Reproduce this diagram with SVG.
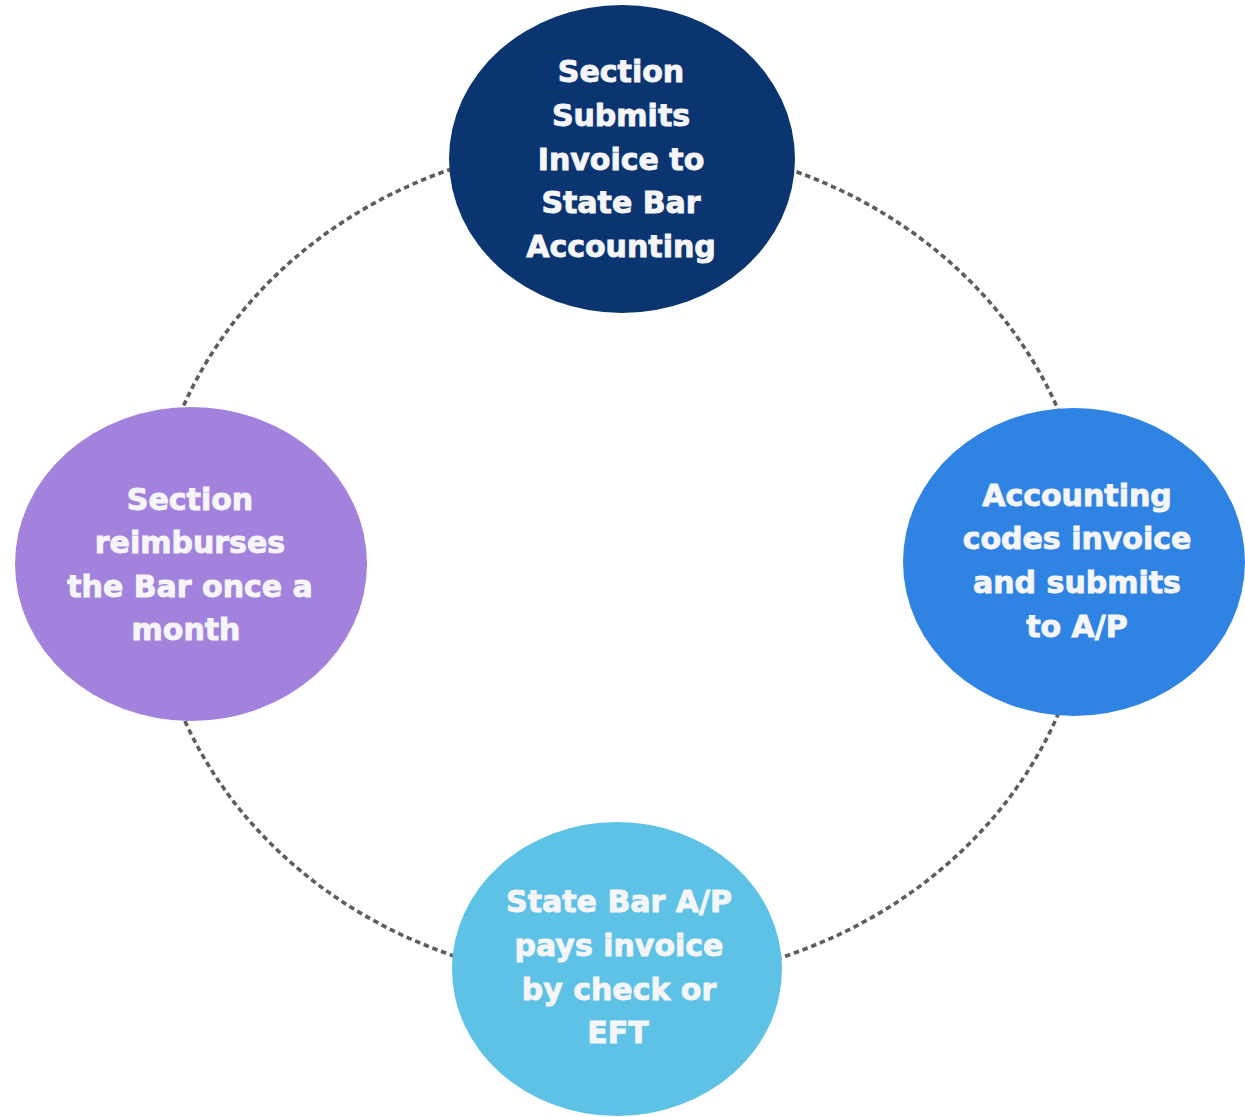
<svg xmlns="http://www.w3.org/2000/svg" width="1245" height="1117" viewBox="0 0 1245 1117">
<style>
.conn{fill:none;stroke:#5e5e5e;stroke-width:3.6;stroke-dasharray:5.5 3.8;}
.lbl{font-family:"DejaVu Sans","Liberation Sans",sans-serif;font-weight:bold;font-size:30px;fill:#f6f6fa;stroke:#f6f6fa;stroke-width:0.9;text-anchor:middle;}
</style>
<rect width="1245" height="1117" fill="#ffffff"/>
<g id="connectors">
<path class="conn" d="M470,163 A470,421 0 0 0 177.6,420"/>
<path class="conn" d="M770,163 A470,421 0 0 1 1062.4,420"/>
<path class="conn" d="M1062.4,704 A470,421 0 0 1 770,961"/>
<path class="conn" d="M177.6,704 A470,421 0 0 0 470,961"/>
</g>
<g id="node-top">
<ellipse cx="622" cy="159" rx="173" ry="154" fill="#0a3571"/>
<text class="lbl"><tspan x="621" y="82">Section</tspan><tspan x="621" y="126">Submits</tspan><tspan x="621" y="170">Invoice to</tspan><tspan x="621" y="213">State Bar</tspan><tspan x="621" y="257">Accounting</tspan></text>
</g>
<g id="node-right">
<ellipse cx="1074" cy="562" rx="171" ry="154" fill="#2f84e3"/>
<text class="lbl"><tspan x="1077" y="506">Accounting</tspan><tspan x="1077" y="549">codes invoice</tspan><tspan x="1077" y="593">and submits</tspan><tspan x="1077" y="637">to A/P</tspan></text>
</g>
<g id="node-left">
<ellipse cx="191" cy="564" rx="176" ry="157" fill="#a282dc"/>
<text class="lbl"><tspan x="190" y="510">Section</tspan><tspan x="190" y="553">reimburses</tspan><tspan x="190" y="597">the Bar once a</tspan><tspan x="186" y="640">month</tspan></text>
</g>
<g id="node-bottom">
<ellipse cx="617" cy="969" rx="165" ry="147" fill="#5dc2e5"/>
<text class="lbl"><tspan x="619" y="912">State Bar A/P</tspan><tspan x="619" y="956">pays invoice</tspan><tspan x="619" y="1000">by check or</tspan><tspan x="618" y="1043">EFT</tspan></text>
</g>
</svg>
